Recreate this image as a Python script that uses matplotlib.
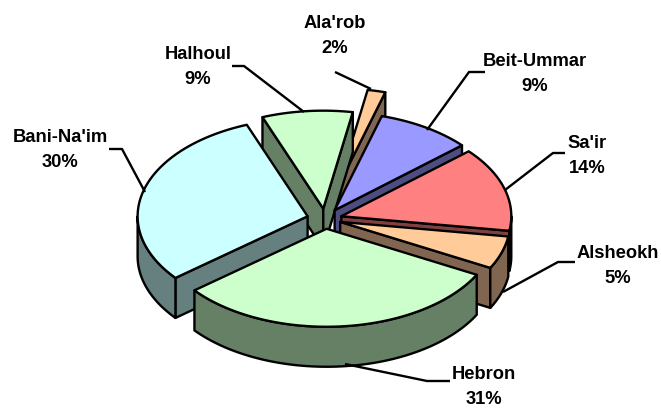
import matplotlib.pyplot as plt
import numpy as np
from matplotlib.patches import Polygon

plt.rcParams['font.family'] = ['Liberation Sans', 'DejaVu Sans']

# slices clockwise, starting from Ala'rob
names = ["Ala'rob", "Beit-Ummar", "Sa'ir", "Alsheokh", "Hebron", "Bani-Na'im", "Halhoul"]
shares = [1.7, 9.0, 13.9, 5.4, 31.4, 30.0, 8.6]
top_colors = ['#FFCC99', '#9999FF', '#FF8080', '#FFCC99', '#CCFFCC', '#CCFFFF', '#CCFFCC']
side_colors = ['#806650', '#4D4D80', '#804040', '#806650', '#668066', '#668080', '#668066']
explode = [58, 18, 17, 16, 17, 18, 18]
draw_order = [0, 6, 1, 5, 2, 3, 4]

# label centre and leader line, in pixels of the picture
label_pos = [(335, 36), (535, 74), (587, 156), (618, 266), (484, 387), (60, 150), (198, 67)]
leaders = [
    [(335, 72), (371, 89)],
    [(485, 72), (469, 72), (427, 130)],
    [(565, 153), (553, 153), (505, 190)],
    [(575, 262), (558, 262), (503, 292)],
    [(450, 381), (427, 381), (345, 364)],
    [(109, 149), (122, 149), (145, 192)],
    [(232, 66), (244, 66), (304, 112)],
]

cx, cy = 325, 219
rx, ry = 170, 98
depth = 40
start_angle = 280
lw = 1.7


def rim(a0, a1, ox, oy, dy=0):
    t = np.radians(np.linspace(a0, a1, 80))
    return np.column_stack([ox + rx * np.cos(t), oy + ry * np.sin(t) + dy])


fig = plt.figure(figsize=(6.61, 4.08), dpi=100)
ax = fig.add_axes([0, 0, 1, 1])
ax.set_xlim(0, 661)
ax.set_ylim(408, 0)
ax.axis('off')

spans = 3.6 * np.array(shares)
starts = start_angle + np.concatenate([[0], np.cumsum(spans)[:-1]])

for i in draw_order:
    a0, a1 = starts[i], starts[i] + spans[i]
    mid = np.radians((a0 + a1) / 2)
    ox = cx + explode[i] * np.cos(mid)
    oy = cy + explode[i] * np.sin(mid) * ry / rx
    arc = rim(a0, a1, ox, oy)

    # cut faces, only those turned towards the viewer
    faces = []
    if np.cos(np.radians(a0)) < 0:
        faces.append(arc[0])
    if np.cos(np.radians(a1)) > 0:
        faces.append(arc[-1])
    for end in faces:
        wall = [(ox, oy), end, end + (0, depth), (ox, oy + depth)]
        ax.add_patch(Polygon(wall, fc=side_colors[i], ec='black', lw=lw, joinstyle='round'))

    # outer wall, only the part in front
    for k in (0, 360):
        f0, f1 = max(a0, k), min(a1, k + 180)
        if f1 > f0:
            front = rim(f0, f1, ox, oy)
            wall = np.vstack([front, rim(f1, f0, ox, oy, depth)])
            ax.add_patch(Polygon(wall, fc=side_colors[i], ec='black', lw=lw, joinstyle='round'))

    ax.add_patch(Polygon(np.vstack([[ox, oy], arc]), fc=top_colors[i], ec='black', lw=lw,
                         joinstyle='round'))

for name, share, pos, line in zip(names, shares, label_pos, leaders):
    xs, ys = zip(*line)
    ax.plot(xs, ys, color='black', lw=lw, solid_capstyle='butt')
    ax.text(pos[0], pos[1], f"{name}\n{share:.0f}%", ha='center', va='center', fontsize=13.2,
            fontweight='bold', linespacing=1.58, color='black')

fig.savefig('out.png', dpi=100)
